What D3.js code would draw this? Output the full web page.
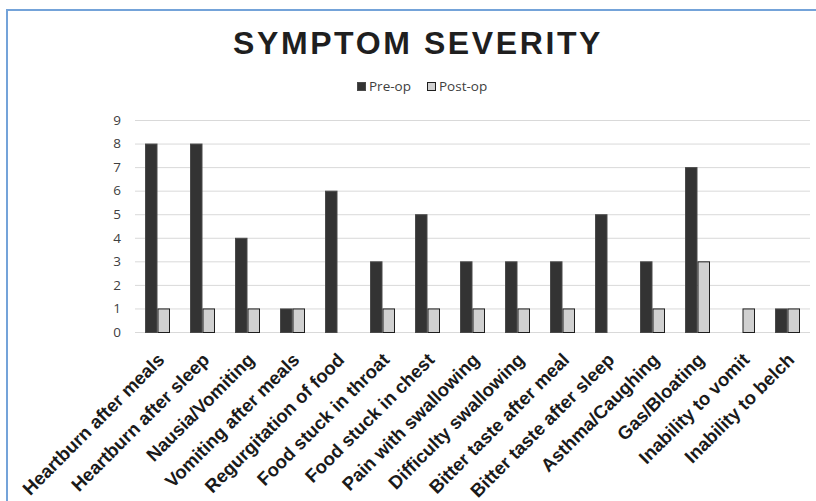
<!DOCTYPE html>
<html><head><meta charset="utf-8">
<script src="https://cdn.jsdelivr.net/npm/d3@7"></script>
<style>body{margin:0;background:#fff;} svg{display:block;}</style>
</head><body>
<svg id="chart" width="816" height="501"></svg>
<script>
const categories = ["Heartburn after meals","Heartburn after sleep","Nausia/Vomiting","Vomiting after meals","Regurgitation of food","Food stuck in throat","Food stuck in chest","Pain with swallowing","Difficulty swallowing","Bitter taste after meal","Bitter taste after sleep","Asthma/Caughing","Gas/Bloating","Inability to vomit","Inability to belch"];
const preOp  = [8,8,4,1,6,3,5,3,3,3,5,3,7,0,1];
const postOp = [1,1,1,1,0,1,1,1,1,1,0,1,3,1,1];
const seriesNames = ["Pre-op","Post-op"];
const yTicks = [0,1,2,3,4,5,6,7,8,9];
const title = "SYMPTOM SEVERITY";

const svg = d3.select("#chart");
const colors = {"Pre-op":"#333333","Post-op":"#d0d0d0"};
const strokes = {"Pre-op":"#4a4a4a","Post-op":"#1e1e1e"};

// frame border
svg.append("line").attr("x1",7).attr("x2",7).attr("y1",10).attr("y2",501).attr("stroke","#74a3d9").attr("stroke-width",2);
svg.append("line").attr("x1",6).attr("x2",816).attr("y1",10).attr("y2",10).attr("stroke","#74a3d9").attr("stroke-width",2);

const x = d3.scaleBand().domain(categories).range([135,810]).paddingInner(0).paddingOuter(0);
const y = d3.scaleLinear().domain([0,9]).range([332,120]);
const groupW = 25;
const xs = d3.scaleBand().domain(seriesNames).range([0,groupW]);

// gridlines
svg.append("g").selectAll("line").data(yTicks).join("line")
  .attr("x1",135).attr("x2",810)
  .attr("y1",d=>y(d)+0.5).attr("y2",d=>y(d)+0.5)
  .attr("stroke","#d9d9d9").attr("stroke-width",1);

// y axis labels
const yAxis = d3.axisLeft(y).tickValues(yTicks).tickSize(0).tickPadding(0).tickFormat(d3.format("d"));
const yg = svg.append("g").attr("transform","translate(121,0)").call(yAxis);
yg.select(".domain").remove();
yg.selectAll("text").attr("font-family","Open Sans").attr("font-size","13.5px").attr("fill","#404040");

// bars
const data = categories.map((c,i)=>({c, vals:[{s:"Pre-op",v:preOp[i]},{s:"Post-op",v:postOp[i]}]}));
const groups = svg.append("g").selectAll("g").data(data).join("g")
  .attr("transform",d=>`translate(${x(d.c)+x.bandwidth()/2-groupW/2},0)`);
groups.selectAll("rect").data(d=>d.vals.filter(v=>v.v>0)).join("rect")
  .attr("x",d=>xs(d.s)+0.5).attr("width",xs.bandwidth()-1)
  .attr("y",d=>y(d.v)+0.5).attr("height",d=>y(0)-y(d.v))
  .attr("fill",d=>colors[d.s]).attr("stroke",d=>strokes[d.s]).attr("stroke-width",1);

// x labels
const xAxis = d3.axisBottom(x).tickSize(0).tickPadding(0);
const xg = svg.append("g").attr("transform","translate(0,332)").call(xAxis);
xg.select(".domain").remove();
xg.selectAll("text")
  .attr("font-family","Liberation Sans, Arial").attr("font-weight","bold").attr("font-size","18.5px").attr("fill","#1a1a1a")
  .attr("text-anchor","end").attr("dy",null).attr("y",null)
  .attr("transform","translate(8,29) rotate(-45)");

// title
svg.append("text").attr("x",418).attr("y",54).attr("text-anchor","middle")
  .attr("font-family","Liberation Sans, Arial").attr("font-weight","bold").attr("font-size","32px")
  .attr("letter-spacing","2.6px").attr("fill","#1f1f1f").text(title);

// legend
const legend = svg.append("g").attr("font-family","Open Sans").attr("font-size","13.5px").attr("fill","#404040");
const legX = [357,427];
seriesNames.forEach((s,i)=>{
  legend.append("rect").attr("x",legX[i]+0.5).attr("y",82.5).attr("width",8).attr("height",8)
    .attr("fill",colors[s]).attr("stroke",strokes[s]).attr("stroke-width",1);
  legend.append("text").attr("x",legX[i]+12).attr("y",91).text(s);
});
</script>
</body></html>
